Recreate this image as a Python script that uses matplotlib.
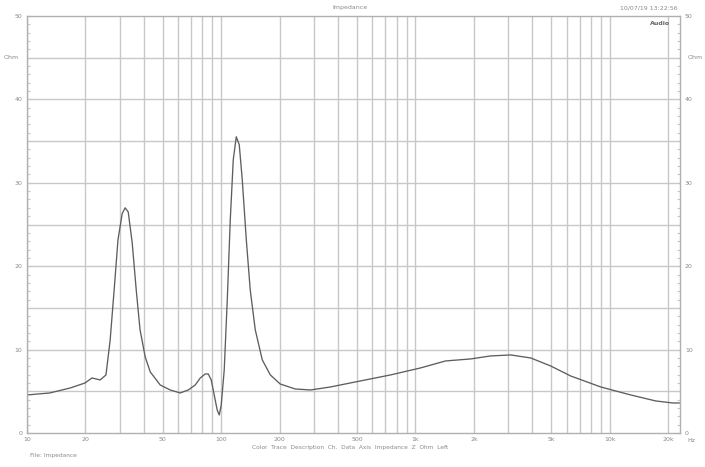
import matplotlib
matplotlib.use("Agg")
import matplotlib.pyplot as plt
from matplotlib.ticker import FixedLocator, NullFormatter, MultipleLocator
import numpy as np

# ---- data ----
freq_hz = [10, 13.1, 16.7, 19.9, 21.6, 23.8, 25.5, 26.8, 28.1, 29.4, 30.9, 32.0,
           33.2, 34.8, 36.5, 38.2, 40.6, 43.1, 48.5, 54.6, 61.5, 67.6, 73.5, 78.0,
           82.7, 85.7, 88.8, 92.0, 95.3, 97.7, 100, 103.6, 107.4, 111.3, 115.3,
           119.5, 123.8, 128.3, 134.6, 141.0, 149.7, 162.7, 179, 201, 240, 288,
           365, 520, 743, 1061, 1428, 1922, 2437, 3089, 3915, 4963, 6291, 8990,
           12830, 17270, 21120, 23000]
impedance_ohm = [4.56, 4.8, 5.4, 6.0, 6.6, 6.36, 6.96, 11.16, 17.16, 23.16, 26.3, 27.0,
                 26.5, 22.8, 17.16, 12.36, 9.12, 7.32, 5.76, 5.16, 4.8, 5.16, 5.76, 6.6,
                 7.08, 7.08, 6.36, 4.56, 2.76, 2.16, 3.36, 7.56, 15.96, 25.56, 32.76,
                 35.52, 34.56, 30.36, 23.16, 17.16, 12.36, 8.76, 6.96, 5.88, 5.28, 5.16,
                 5.52, 6.24, 6.96, 7.8, 8.64, 8.88, 9.24, 9.36, 9.0, 8.04, 6.84, 5.52,
                 4.56, 3.84, 3.6, 3.6]

x_tick_values = [10, 20, 50, 100, 200, 500, 1000, 2000, 5000, 10000, 20000]
x_tick_labels = ["10", "20", "50", "100", "200", "500", "1k", "2k", "5k", "10k", "20k"]
y_tick_values = [0, 10, 20, 30, 40, 50]
y_tick_labels = ["0", "10", "20", "30", "40", "50"]

title = "Impedance"
timestamp = "10/07/19 13:22:56"
legend_text = "Color  Trace  Description  Ch.  Data  Axis  Impedance  Z  Ohm  Left"
file_text = "File: Impedance"

# ---- style ----
grid_c = "#c8c8c8"
txt_c = "#8a8a8a"
line_c = "#5e5e5e"

fig = plt.figure(figsize=(7.05, 4.67), dpi=100)
ax = fig.add_axes([27/705, 1-433/467, (680-27)/705, (433-16)/467])

ax.plot(freq_hz, impedance_ohm, color=line_c, lw=0.95)
ax.set_xscale("log")
ax.set_xlim(10, 23000)
ax.set_ylim(0, 50)

grid_x = [m * 10**e for e in range(1, 5) for m in range(1, 10) if m * 10**e <= 23000]
ax.xaxis.set_major_locator(FixedLocator(x_tick_values))
ax.set_xticklabels(x_tick_labels)
ax.xaxis.set_minor_locator(FixedLocator([g for g in grid_x if g not in x_tick_values]))
ax.xaxis.set_minor_formatter(NullFormatter())
for g in grid_x:
    ax.axvline(g, color=grid_c, lw=1.0, zorder=0)

ax.set_yticks(y_tick_values, y_tick_labels)
ax.yaxis.set_minor_locator(MultipleLocator(1))
for v in np.arange(5, 50, 5):
    ax.axhline(v, color=grid_c, lw=1.0, zorder=0)

ax.tick_params(axis="both", which="both", direction="in", colors=grid_c,
               labelcolor=txt_c, labelsize=4.5, length=3, width=0.8)
ax.tick_params(axis="y", which="minor", length=2)
ax.tick_params(axis="y", left=True, right=True, labelleft=True, labelright=True, which="both")
ax.tick_params(axis="x", which="major", pad=3)
for s in ax.spines.values():
    s.set_color("#b0b0b0")
    s.set_linewidth(1.0)

ax.text(-0.012, 45/50, "Ohm", transform=ax.transAxes, ha="right", va="center",
        fontsize=4.5, color=txt_c)
ax.text(1.012, 45/50, "Ohm", transform=ax.transAxes, ha="left", va="center",
        fontsize=4.5, color=txt_c)
ax.text(1.012, -0.012, "Hz", transform=ax.transAxes, ha="left", va="top",
        fontsize=4.5, color=txt_c)

fig.text(350/705, 1-8/467, title, ha="center", va="center", fontsize=4.5, color=txt_c)
fig.text(678/705, 1-8/467, timestamp, ha="right", va="center", fontsize=4.5, color=txt_c)
ax.text(0.985, 0.988, "Audio", transform=ax.transAxes, ha="right", va="top",
        fontsize=4.5, color="#666666", fontweight="bold")
fig.text(350/705, 1-448/467, legend_text, ha="center", va="center", fontsize=4.2, color=txt_c)
fig.text(30/705, 1-456/467, file_text, ha="left", va="center", fontsize=4.2, color=txt_c)

fig.savefig("out.png", dpi=100)
